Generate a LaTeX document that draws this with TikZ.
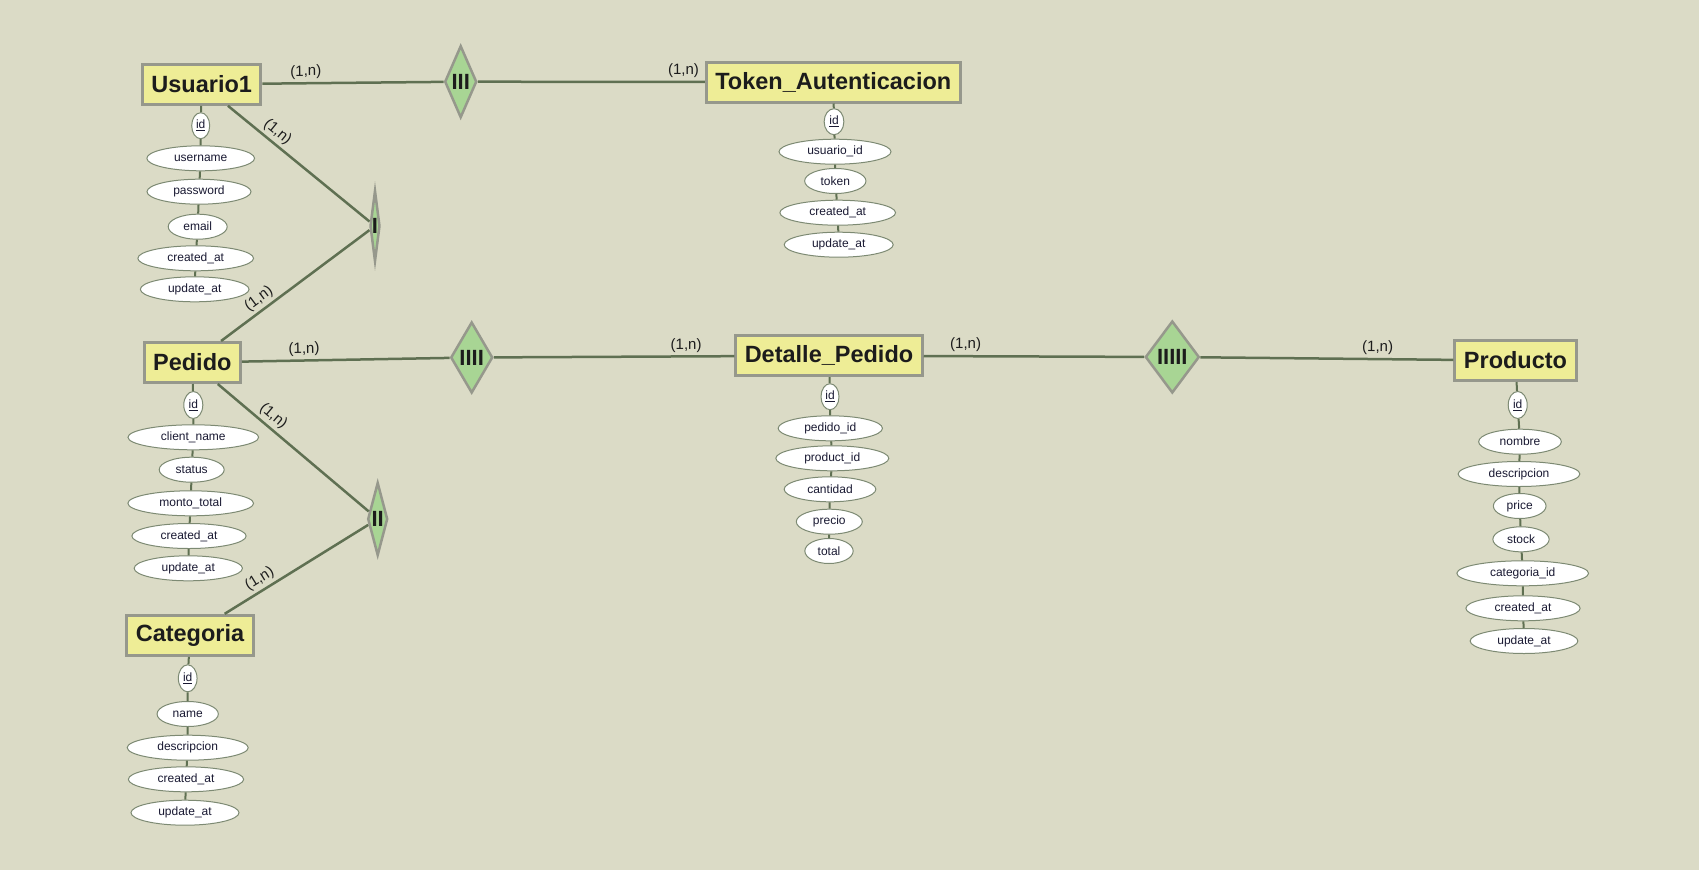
\documentclass[tikz,border=0pt]{standalone}
\usepackage{fontspec}
\setsansfont{Liberation Sans}
\usetikzlibrary{shapes.geometric}
\definecolor{paper}{RGB}{219,219,198}
\definecolor{entityfill}{RGB}{238,237,150}
\definecolor{entityborder}{RGB}{150,152,140}
\definecolor{relfill}{RGB}{168,213,148}
\definecolor{erline}{RGB}{95,112,82}
\definecolor{attrborder}{RGB}{125,138,115}
\definecolor{inktext}{RGB}{28,28,28}
\definecolor{attrtext}{RGB}{25,25,50}
\begin{document}
\begin{tikzpicture}[
   x=1pt,y=-1pt,
   font=\sffamily,
   entity/.style={draw=entityborder,line width=3pt,fill=entityfill,text=inktext,font=\sffamily\bfseries\fontsize{23.5}{28}\selectfont,inner xsep=9pt,minimum height=40pt},
   rel/.style={diamond,draw=entityborder,line width=2.5pt,fill=relfill,text=inktext,font=\sffamily\bfseries\fontsize{22}{26}\selectfont,inner sep=0pt},
   attr/.style={ellipse,draw=attrborder,line width=1pt,fill=white,text=attrtext,font=\sffamily\fontsize{12}{14}\selectfont,inner sep=0pt,minimum height=25pt},
   link/.style={draw=erline,line width=2.5pt},
   attrlink/.style={draw=erline,line width=2pt},
   card/.style={font=\sffamily\fontsize{15}{18}\selectfont,text=inktext,inner sep=3pt,sloped,above}]
\fill[paper] (0,0) rectangle (1699,870);
\useasboundingbox (0,0) rectangle (1699,870);
% entities
\node[entity] (Usuario1) at (201.7,84.3) {Usuario1};
\node[entity] (Token) at (833.3,82) {Token\_Autenticacion};
\node[entity] (Pedido) at (192.3,362.5) {Pedido};
\node[entity] (Detalle) at (829,355.7) {Detalle\_Pedido};
\node[entity] (Producto) at (1515.5,360.5) {Producto};
\node[entity] (Categoria) at (190,635.3) {Categoria};
% relations
\node[rel,minimum width=10pt,minimum height=71pt,aspect=0.16] (I) at (375,226) {I};
\node[rel,minimum width=20pt,minimum height=73pt,aspect=0.3] (II) at (377.7,519) {II};
\node[rel,minimum width=32pt,minimum height=72pt,aspect=0.45] (III) at (460.7,81.7) {III};
\node[rel,minimum width=42pt,minimum height=71pt,aspect=0.6] (IIII) at (471.7,357.5) {IIII};
\node[rel,minimum width=54pt,minimum height=72pt,aspect=0.75] (IIIII) at (1172.3,357) {IIIII};
% Usuario1 attributes
\node[attr,minimum width=18pt,minimum height=26pt] (Usuario1-id) at (200.7,125.7) {\underline{id}};
\node[attr,minimum width=107.7pt] (Usuario1-username) at (200.7,158.3) {username};
\node[attr,minimum width=104pt] (Usuario1-password) at (199,191.7) {password};
\node[attr,minimum width=59pt] (Usuario1-email) at (197.7,226.7) {email};
\node[attr,minimum width=115.7pt] (Usuario1-created) at (195.7,258.3) {created\_at};
\node[attr,minimum width=108.7pt] (Usuario1-update) at (194.7,289.3) {update\_at};
% Token attributes
\node[attr,minimum width=19.7pt,minimum height=26pt] (Token-id) at (834,121.7) {\underline{id}};
\node[attr,minimum width=112pt] (Token-usuario) at (835,151.7) {usuario\_id};
\node[attr,minimum width=61.3pt] (Token-token) at (835.3,181) {token};
\node[attr,minimum width=115.7pt] (Token-created) at (837.7,212.7) {created\_at};
\node[attr,minimum width=109pt] (Token-update) at (838.7,244.7) {update\_at};
% Pedido attributes
\node[attr,minimum width=19pt,minimum height=27pt] (Pedido-id) at (193.3,405) {\underline{id}};
\node[attr,minimum width=130.7pt] (Pedido-client) at (193.3,437.3) {client\_name};
\node[attr,minimum width=65pt] (Pedido-status) at (191.7,469.7) {status};
\node[attr,minimum width=125.7pt] (Pedido-monto) at (190.7,503.3) {monto\_total};
\node[attr,minimum width=114.3pt] (Pedido-created) at (189,536) {created\_at};
\node[attr,minimum width=108.3pt] (Pedido-update) at (188.3,568.3) {update\_at};
% Detalle_Pedido attributes
\node[attr,minimum width=18pt,minimum height=26pt] (Detalle-id) at (830,396.7) {\underline{id}};
\node[attr,minimum width=104.3pt] (Detalle-pedido) at (830.3,428.3) {pedido\_id};
\node[attr,minimum width=113pt] (Detalle-product) at (832.3,458.3) {product\_id};
\node[attr,minimum width=91.7pt] (Detalle-cantidad) at (830,489.3) {cantidad};
\node[attr,minimum width=66pt] (Detalle-precio) at (829.3,521.7) {precio};
\node[attr,minimum width=48.3pt] (Detalle-total) at (829,551) {total};
% Producto attributes
\node[attr,minimum width=19pt,minimum height=27pt] (Producto-id) at (1517.7,405) {\underline{id}};
\node[attr,minimum width=82.7pt] (Producto-nombre) at (1520,441.7) {nombre};
\node[attr,minimum width=121.7pt] (Producto-descripcion) at (1519,474) {descripcion};
\node[attr,minimum width=52.7pt] (Producto-price) at (1519.7,506) {price};
\node[attr,minimum width=56.3pt] (Producto-stock) at (1521,539.3) {stock};
\node[attr,minimum width=131.7pt] (Producto-categoria) at (1522.7,573.3) {categoria\_id};
\node[attr,minimum width=114.3pt] (Producto-created) at (1523,608.3) {created\_at};
\node[attr,minimum width=107.7pt] (Producto-update) at (1524,641) {update\_at};
% Categoria attributes
\node[attr,minimum width=18.7pt,minimum height=27pt] (Categoria-id) at (187.7,678.3) {\underline{id}};
\node[attr,minimum width=61.3pt] (Categoria-name) at (187.7,714) {name};
\node[attr,minimum width=121pt] (Categoria-descripcion) at (187.7,747.7) {descripcion};
\node[attr,minimum width=115.3pt] (Categoria-created) at (186,779.3) {created\_at};
\node[attr,minimum width=108pt] (Categoria-update) at (185,812.7) {update\_at};
% attribute chains
\draw[attrlink] (Usuario1) -- (Usuario1-id) -- (Usuario1-username) -- (Usuario1-password) -- (Usuario1-email) -- (Usuario1-created) -- (Usuario1-update);
\draw[attrlink] (Token) -- (Token-id) -- (Token-usuario) -- (Token-token) -- (Token-created) -- (Token-update);
\draw[attrlink] (Pedido) -- (Pedido-id) -- (Pedido-client) -- (Pedido-status) -- (Pedido-monto) -- (Pedido-created) -- (Pedido-update);
\draw[attrlink] (Detalle) -- (Detalle-id) -- (Detalle-pedido) -- (Detalle-product) -- (Detalle-cantidad) -- (Detalle-precio) -- (Detalle-total);
\draw[attrlink] (Producto) -- (Producto-id) -- (Producto-nombre) -- (Producto-descripcion) -- (Producto-price) -- (Producto-stock) -- (Producto-categoria) -- (Producto-created) -- (Producto-update);
\draw[attrlink] (Categoria) -- (Categoria-id) -- (Categoria-name) -- (Categoria-descripcion) -- (Categoria-created) -- (Categoria-update);
% relationships
\draw[link] (Usuario1) -- node[card,pos=0.24] {(1,n)} (III);
\draw[link] (III) -- node[card,pos=0.906] {(1,n)} (Token);
\draw[link] (Usuario1) -- node[card,pos=0.30] {(1,n)} (I);
\draw[link] (Pedido) -- node[card,pos=0.30] {(1,n)} (I);
\draw[link] (Pedido) -- node[card,pos=0.30] {(1,n)} (IIII);
\draw[link] (IIII) -- node[card,pos=0.80] {(1,n)} (Detalle);
\draw[link] (Pedido) -- node[card,pos=0.32] {(1,n)} (II);
\draw[link] (Categoria) -- node[card,pos=0.285] {(1,n)} (II);
\draw[link] (Detalle) -- node[card,pos=0.19] {(1,n)} (IIIII);
\draw[link] (IIIII) -- node[card,pos=0.70] {(1,n)} (Producto);
\end{tikzpicture}
\end{document}
